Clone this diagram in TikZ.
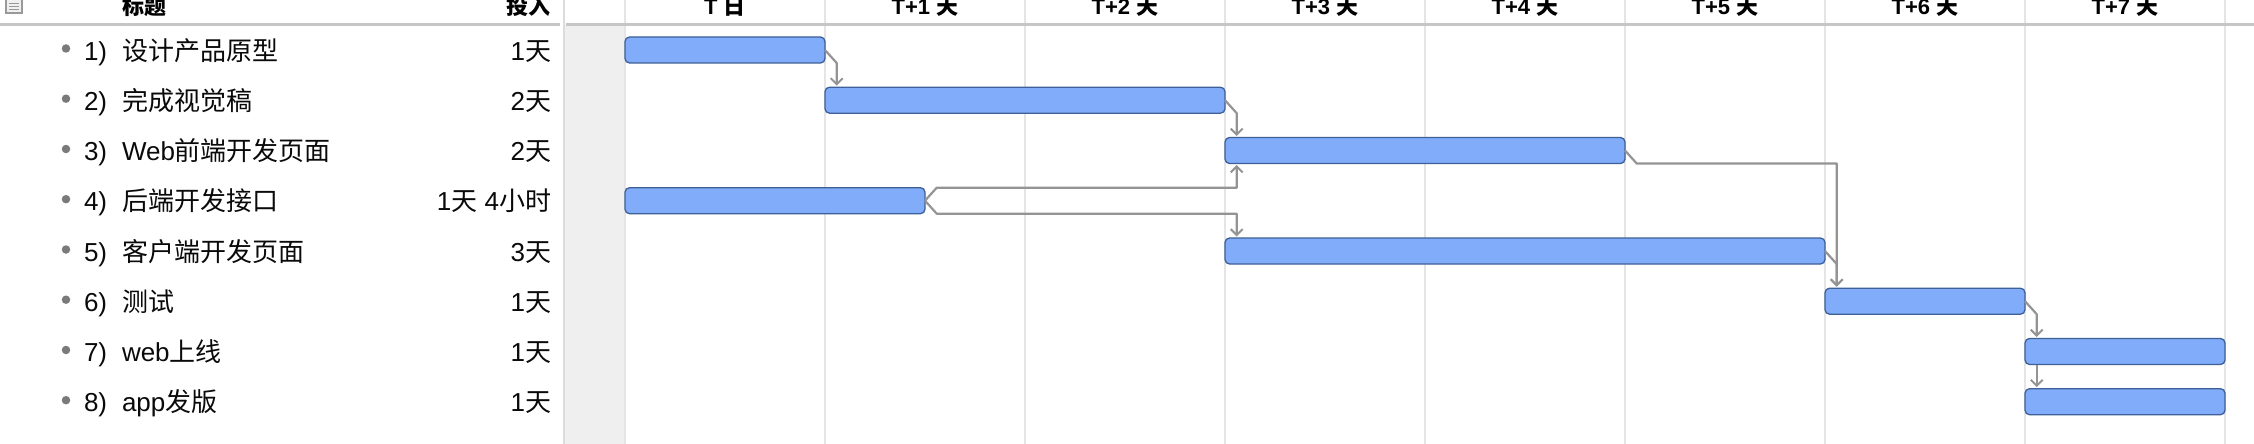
\documentclass[tikz,border=0pt]{standalone}
\usepackage{fontspec}
\setmainfont{Liberation Sans}
\newfontfamily\cjk{Noto Sans CJK SC}
\usetikzlibrary{calc,arrows.meta}
\definecolor{barfill}{RGB}{128,172,250}
\definecolor{barline}{RGB}{62,96,150}
\definecolor{conncol}{RGB}{148,148,148}
\definecolor{gridcol}{RGB}{229,229,229}
\definecolor{shadecol}{RGB}{240,239,239}
\definecolor{hdrline}{RGB}{198,198,198}
\definecolor{sepcol}{RGB}{220,220,220}
\definecolor{bulletcol}{RGB}{122,122,122}
\definecolor{txtcol}{RGB}{10,10,10}
\tikzset{
  bar/.style={draw=barline, fill=barfill, line width=1.3pt, rounded corners=4.5pt,
    minimum height=26pt, inner sep=0pt, outer sep=0pt, anchor=west},
  conn/.style={draw=conncol, line width=2.2pt, line join=round,
    -{Straight Barb[length=6pt,width=12pt,line width=2pt]}},
  rowtxt/.style={inner sep=0pt, outer sep=0pt, text=txtcol, font=\fontsize{26pt}{30pt}\selectfont},
  hdrtxt/.style={inner sep=0pt, outer sep=0pt, text=black, font=\fontsize{22pt}{26pt}\selectfont\bfseries},
  bulletdot/.style={circle, fill=bulletcol, minimum size=8.5pt, inner sep=0pt},
  gridline/.style={draw=gridcol, line width=2pt}
}
\begin{document}
\begin{tikzpicture}[x=1pt,y=-1pt]
\useasboundingbox (0,0) rectangle (2254,444);
\clip (0,0) rectangle (2254,444);
\fill[white] (0,0) rectangle (2254,444);
% shaded strip
\fill[shadecol] (565,25) rectangle (625,444);
% grid lines
\foreach \gx in {625,825,1025,1225,1425,1625,1825,2025,2225}
  \draw[gridline] (\gx,0) -- (\gx,444);
% separator
\draw[draw=sepcol, line width=2pt] (564,0) -- (564,444);
% header lines
\draw[draw=hdrline, line width=2.5pt] (0,24.5) -- (560,24.5);
\draw[draw=hdrline, line width=2.5pt] (566,24.5) -- (2254,24.5);
% icon
\draw[draw=gray!80, fill=gray!12, line width=1.2pt] (6,-4) rectangle (22,13);
\foreach \iy in {0,3.5,7,10}
  \draw[draw=gray!80, line width=1pt] (9,\iy) -- (19,\iy);
% header texts
\node[hdrtxt, anchor=base west] (h1) at (122,15) {{\cjk\bfseries 标题}};
\node[hdrtxt, anchor=base east] (h2) at (550,15) {{\cjk\bfseries 投入}};
\node[hdrtxt, anchor=base] (d0) at (725,15) {T {\cjk\bfseries 日}};
\node[hdrtxt, anchor=base] (dA) at (925,15) {T+1 {\cjk\bfseries 天}};
\node[hdrtxt, anchor=base] (dB) at (1125,15) {T+2 {\cjk\bfseries 天}};
\node[hdrtxt, anchor=base] (dC) at (1325,15) {T+3 {\cjk\bfseries 天}};
\node[hdrtxt, anchor=base] (dD) at (1525,15) {T+4 {\cjk\bfseries 天}};
\node[hdrtxt, anchor=base] (dE) at (1725,15) {T+5 {\cjk\bfseries 天}};
\node[hdrtxt, anchor=base] (dF) at (1925,15) {T+6 {\cjk\bfseries 天}};
\node[hdrtxt, anchor=base] (dG) at (2125,15) {T+7 {\cjk\bfseries 天}};
% rows: bullets, numbers, titles, durations
\node[bulletdot] (o1) at (66,48.5) {};
\node[bulletdot] (o2) at (66,98.7) {};
\node[bulletdot] (o3) at (66,149) {};
\node[bulletdot] (o4) at (66,199.2) {};
\node[bulletdot] (o5) at (66,249.5) {};
\node[bulletdot] (o6) at (66,299.7) {};
\node[bulletdot] (o7) at (66,350) {};
\node[bulletdot] (o8) at (66,400.2) {};
\node[rowtxt, anchor=base west] (n1) at (84,60) {1)};
\node[rowtxt, anchor=base west] (n2) at (84,110.2) {2)};
\node[rowtxt, anchor=base west] (n3) at (84,160.5) {3)};
\node[rowtxt, anchor=base west] (n4) at (84,210.7) {4)};
\node[rowtxt, anchor=base west] (n5) at (84,261) {5)};
\node[rowtxt, anchor=base west] (n6) at (84,311.2) {6)};
\node[rowtxt, anchor=base west] (n7) at (84,361.5) {7)};
\node[rowtxt, anchor=base west] (n8) at (84,411.7) {8)};
\node[rowtxt, anchor=base west] (t1) at (122,60) {{\cjk 设计产品原型}};
\node[rowtxt, anchor=base west] (t2) at (122,110.2) {{\cjk 完成视觉稿}};
\node[rowtxt, anchor=base west] (t3) at (122,160.5) {Web{\cjk 前端开发页面}};
\node[rowtxt, anchor=base west] (t4) at (122,210.7) {{\cjk 后端开发接口}};
\node[rowtxt, anchor=base west] (t5) at (122,261) {{\cjk 客户端开发页面}};
\node[rowtxt, anchor=base west] (t6) at (122,311.2) {{\cjk 测试}};
\node[rowtxt, anchor=base west] (t7) at (122,361.5) {web{\cjk 上线}};
\node[rowtxt, anchor=base west] (t8) at (122,411.7) {app{\cjk 发版}};
\node[rowtxt, anchor=base east] (e1) at (551,60) {1{\cjk 天}};
\node[rowtxt, anchor=base east] (e2) at (551,110.2) {2{\cjk 天}};
\node[rowtxt, anchor=base east] (e3) at (551,160.5) {2{\cjk 天}};
\node[rowtxt, anchor=base east] (e4) at (551,210.7) {1{\cjk 天} 4{\cjk 小时}};
\node[rowtxt, anchor=base east] (e5) at (551,261) {3{\cjk 天}};
\node[rowtxt, anchor=base east] (e6) at (551,311.2) {1{\cjk 天}};
\node[rowtxt, anchor=base east] (e7) at (551,361.5) {1{\cjk 天}};
\node[rowtxt, anchor=base east] (e8) at (551,411.7) {1{\cjk 天}};
% bars
\node[bar, minimum width=200pt] (b1) at (625,50) {};
\node[bar, minimum width=400pt] (b2) at (825,100.2) {};
\node[bar, minimum width=400pt] (b3) at (1225,150.5) {};
\node[bar, minimum width=300pt] (b4) at (625,200.7) {};
\node[bar, minimum width=600pt] (b5) at (1225,251) {};
\node[bar, minimum width=200pt] (b6) at (1825,301.2) {};
\node[bar, minimum width=200pt] (b7) at (2025,351.5) {};
\node[bar, minimum width=200pt] (b8) at (2025,401.7) {};
% connectors
\draw[conn] (b1.east) -- ($(b1.south east)+(11.7,0)$) -- ($(b2.north west)+(11.7,-1.5)$);
\draw[conn] (b2.east) -- ($(b2.south east)+(11.7,0)$) -- ($(b3.north west)+(11.7,-1.5)$);
\draw[conn] (b4.east) -- ($(b4.north east)+(11.7,0)$) -- ($(b4.north -| b3.west)+(11.7,0)$) -- ($(b3.south west)+(11.7,1.5)$);
\draw[conn] (b4.east) -- ($(b4.south east)+(11.7,0)$) -- ($(b4.south -| b5.west)+(11.7,0)$) -- ($(b5.north west)+(11.7,-1.5)$);
\draw[conn] (b3.east) -- ($(b3.south east)+(11.7,0)$) -- ($(b3.south -| b6.west)+(11.7,0)$) -- ($(b6.north west)+(11.7,-1.5)$);
\draw[conn] (b5.east) -- ($(b5.south east)+(11.7,0)$) -- ($(b6.north west)+(11.7,-1.5)$);
\draw[conn] (b6.east) -- ($(b6.south east)+(11.7,0)$) -- ($(b7.north west)+(11.7,-1.5)$);
\draw[conn] ($(b7.south west)+(11.7,0)$) -- ($(b8.north west)+(11.7,-1.5)$);
\end{tikzpicture}
\end{document}
